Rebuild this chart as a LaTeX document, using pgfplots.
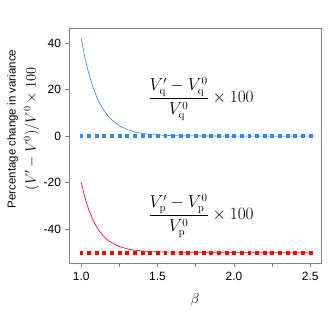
\documentclass[border=0pt]{standalone}
\usepackage{pgfplots}
\pgfplotsset{compat=1.18}
\usepackage[no-math]{fontspec}
\setmainfont{Liberation Sans}
\definecolor{qblue}{RGB}{51,136,240}
\definecolor{pred}{RGB}{255,0,0}
\definecolor{axgray}{RGB}{130,130,130}
\begin{document}
\begin{tikzpicture}
\useasboundingbox (-69pt,-48pt) rectangle (263pt,263pt);
\begin{axis}[
  at={(0,0)}, anchor=south west,
  scale only axis, width=252pt, height=235pt,
  xmin=0.92, xmax=2.57, ymin=-54.6, ymax=46.5,
  axis line style={axgray, line width=0.7pt},
  tick style={axgray, line width=0.7pt},
  tick align=outside, major tick length=3.5pt,
  xtick={1,1.25,1.5,1.75,2,2.25,2.5},
  xticklabels={1.0,,1.5,,2.0,,2.5},
  ytick={-40,-20,0,20,40},
  yticklabels={-40,-20,0,20,40},
  xtick pos=bottom, ytick pos=left,
  tick label style={font=\fontsize{12}{14}\selectfont, black},
  xticklabel style={yshift=-2pt},
  yticklabel style={xshift=-1pt},
  xlabel={$\beta$},
  xlabel style={font=\fontsize{15}{18}\selectfont, at={(axis description cs:0.5,-0.157)}, anchor=center},
  ylabel={Percentage change in variance\\[4pt]{\fontsize{14}{16}\selectfont $(V'-V^0)/V^0\times 100$}},
  ylabel style={font=\fontsize{11.5}{16}\selectfont, align=center, at={(axis description cs:-0.104,0.57)}, anchor=south},
  clip=false,
]
\addplot[qblue, line width=0.6pt] coordinates {
(1.00,42.0) (1.025,33.5) (1.05,26.8) (1.075,21.4) (1.10,17.1) (1.125,13.6) (1.15,10.9) (1.175,8.7) (1.20,6.94) (1.25,4.43) (1.30,2.82) (1.35,1.80) (1.40,1.15) (1.45,0.73) (1.50,0.47) (1.60,0.19) (1.70,0.08) (1.80,0.03) (2.00,0.0) (2.50,0.0)
};
\addplot[pred, line width=0.6pt] coordinates {
(1.00,-20.0) (1.025,-26.6) (1.05,-31.8) (1.075,-35.8) (1.10,-39.0) (1.125,-41.4) (1.15,-43.3) (1.175,-44.8) (1.20,-45.9) (1.25,-47.5) (1.30,-48.5) (1.35,-49.1) (1.40,-49.45) (1.45,-49.67) (1.50,-49.8) (1.60,-49.93) (1.70,-49.97) (2.00,-50.0) (2.50,-50.0)
};
\addplot[only marks, mark=square*, mark size=1.45pt, qblue, mark options={draw=none,fill=qblue}] coordinates {
(1.00,0) (1.05,0) (1.10,0) (1.15,0) (1.20,0) (1.25,0) (1.30,0) (1.35,0) (1.40,0) (1.45,0) (1.50,0) (1.55,0) (1.60,0) (1.65,0) (1.70,0) (1.75,0) (1.80,0) (1.85,0) (1.90,0) (1.95,0) (2.00,0) (2.05,0) (2.10,0) (2.15,0) (2.20,0) (2.25,0) (2.30,0) (2.35,0) (2.40,0) (2.45,0) (2.50,0)
};
\addplot[only marks, mark=square*, mark size=1.45pt, pred, mark options={draw=none,fill=pred}] coordinates {
(1.00,-50) (1.05,-50) (1.10,-50) (1.15,-50) (1.20,-50) (1.25,-50) (1.30,-50) (1.35,-50) (1.40,-50) (1.45,-50) (1.50,-50) (1.55,-50) (1.60,-50) (1.65,-50) (1.70,-50) (1.75,-50) (1.80,-50) (1.85,-50) (1.90,-50) (1.95,-50) (2.00,-50) (2.05,-50) (2.10,-50) (2.15,-50) (2.20,-50) (2.25,-50) (2.30,-50) (2.35,-50) (2.40,-50) (2.45,-50) (2.50,-50)
};
\node[inner sep=0pt, anchor=center, font=\fontsize{16}{19}\selectfont] at (axis cs:1.785,16)
  {$\displaystyle\frac{V'_{\mathrm{q}}-V^0_{\mathrm{q}}}{V^0_{\mathrm{q}}}\times 100$};
\node[inner sep=0pt, anchor=center, font=\fontsize{16}{19}\selectfont] at (axis cs:1.785,-34.3)
  {$\displaystyle\frac{V'_{\mathrm{p}}-V^0_{\mathrm{p}}}{V^0_{\mathrm{p}}}\times 100$};
\end{axis}
\end{tikzpicture}
\end{document}
